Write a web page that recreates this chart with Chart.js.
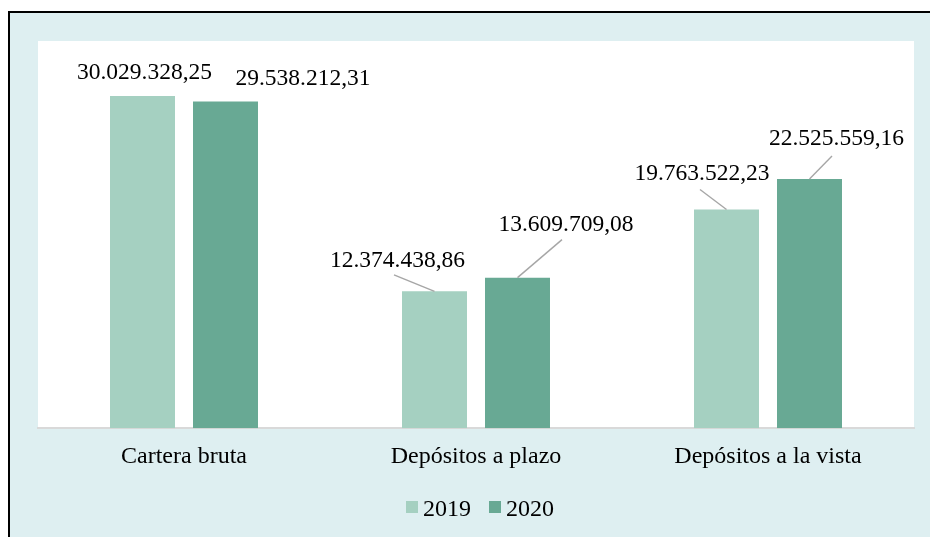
<!DOCTYPE html>
<html>
<head>
<meta charset="utf-8">
<title>Cartera y depósitos</title>
<script src="https://cdn.jsdelivr.net/npm/chart.js@4"></script>
<style>
  html, body { margin: 0; padding: 0; background: #ffffff; }
  canvas { display: block; }
  .fontprobe { font-family: "Liberation Serif"; position: absolute; left: -1000px; top: 0; }
</style>
</head>
<body>
<span class="fontprobe">Depósitos 0123456789</span>
<canvas id="chart" width="930" height="537"></canvas>
<script>
// Categories and yearly totals
const categories = ['Cartera bruta', 'Depósitos a plazo', 'Depósitos a la vista'];
const seriesNames = ['2019', '2020'];
const values2019 = [30029328.25, 12374438.86, 19763522.23];
const values2020 = [29538212.31, 13609709.08, 22525559.16];

const colors = ['#a5d0c1', '#68a994'];
const serifFont = 'Liberation Serif';

// Value label placement relative to the bar top: [dx, dy, leaderStart or null]
const labelLayout = [
  [[2, -17, null], [-37, -24, [-3.5, 7.5]], [-24.5, -30, [-2, 10]]],
  [[77.5, -16, null], [48.5, -47, [-4, 9]], [27, -34, [-4.5, 11]]]
];

function formatEs(v) {
  const parts = v.toFixed(2).split('.');
  return parts[0].replace(/\B(?=(\d{3})+(?!\d))/g, '.') + ',' + parts[1];
}

// Frame, panel background and white plot area
const framePlugin = {
  id: 'frame',
  beforeDraw(chart) {
    const ctx = chart.ctx;
    const {width, height} = chart;
    const a = chart.chartArea;
    ctx.save();
    ctx.fillStyle = '#ffffff';
    ctx.fillRect(0, 0, width, height);
    ctx.fillStyle = '#deeff1';
    ctx.fillRect(10, 13, width - 10, height - 13);
    ctx.fillStyle = '#000000';
    ctx.fillRect(8, 11, 2, height - 11);
    ctx.fillRect(8, 11, width - 8, 2);
    ctx.fillStyle = '#ffffff';
    ctx.fillRect(a.left, a.top, a.right - a.left, a.bottom - a.top);
    ctx.restore();
  }
};

// Value labels with leader lines
const valueLabelPlugin = {
  id: 'valueLabels',
  afterDatasetsDraw(chart) {
    const ctx = chart.ctx;
    ctx.save();
    ctx.font = '23.5px "' + serifFont + '"';
    ctx.textAlign = 'center';
    ctx.textBaseline = 'alphabetic';
    chart.data.datasets.forEach((ds, di) => {
      const meta = chart.getDatasetMeta(di);
      meta.data.forEach((bar, i) => {
        const [dx, dy, lead] = labelLayout[di][i];
        const lx = bar.x + dx;
        const ly = bar.y + dy;
        if (lead) {
          ctx.strokeStyle = '#a6a6a6';
          ctx.lineWidth = 1.4;
          ctx.beginPath();
          ctx.moveTo(lx + lead[0], ly + lead[1]);
          ctx.lineTo(bar.x, bar.y);
          ctx.stroke();
        }
        ctx.fillStyle = '#000000';
        ctx.fillText(formatEs(ds.data[i]), lx, ly);
      });
    });
    ctx.restore();
  }
};

// Legend row under the axis labels
const legendPlugin = {
  id: 'bottomLegend',
  afterDraw(chart) {
    const ctx = chart.ctx;
    ctx.save();
    ctx.font = '24px "' + serifFont + '"';
    ctx.textBaseline = 'alphabetic';
    ctx.textAlign = 'left';
    const box = 12, gap = 5, spacing = 18;
    const items = chart.data.datasets.map(d => ({text: d.label, color: d.backgroundColor, w: ctx.measureText(d.label).width}));
    const total = items.reduce((s, it) => s + box + gap + it.w, 0) + spacing * (items.length - 1);
    let x = 480 - total / 2;
    const baseline = 515.5;
    items.forEach(it => {
      ctx.fillStyle = it.color;
      ctx.fillRect(x, 501, box, box);
      x += box + gap;
      ctx.fillStyle = '#000000';
      ctx.fillText(it.text, x, baseline);
      x += it.w + spacing;
    });
    ctx.restore();
  }
};

function draw() {
  new Chart(document.getElementById('chart'), {
    type: 'bar',
    data: {
      labels: categories,
      datasets: [
        {label: seriesNames[0], data: values2019, backgroundColor: colors[0], borderWidth: 0},
        {label: seriesNames[1], data: values2020, backgroundColor: colors[1], borderWidth: 0}
      ]
    },
    options: {
      responsive: false,
      devicePixelRatio: 1,
      animation: false,
      categoryPercentage: 0.5685,
      barPercentage: 0.783,
      layout: {padding: {left: 38, right: 16, top: 41, bottom: 52}},
      plugins: {
        legend: {display: false},
        tooltip: {enabled: false}
      },
      scales: {
        y: {
          display: false,
          min: 0,
          max: 35000000
        },
        x: {
          grid: {display: false, drawTicks: false},
          border: {display: true, color: '#d9d9d9', width: 2},
          ticks: {
            color: '#000000',
            padding: 14,
            font: {family: serifFont, size: 24}
          }
        }
      }
    },
    plugins: [framePlugin, valueLabelPlugin, legendPlugin]
  });
}

if (document.fonts && document.fonts.load) {
  Promise.all([
    document.fonts.load('23.5px "' + serifFont + '"'),
    document.fonts.load('24px "' + serifFont + '"')
  ]).then(draw, draw);
} else {
  draw();
}
</script>
</body>
</html>
